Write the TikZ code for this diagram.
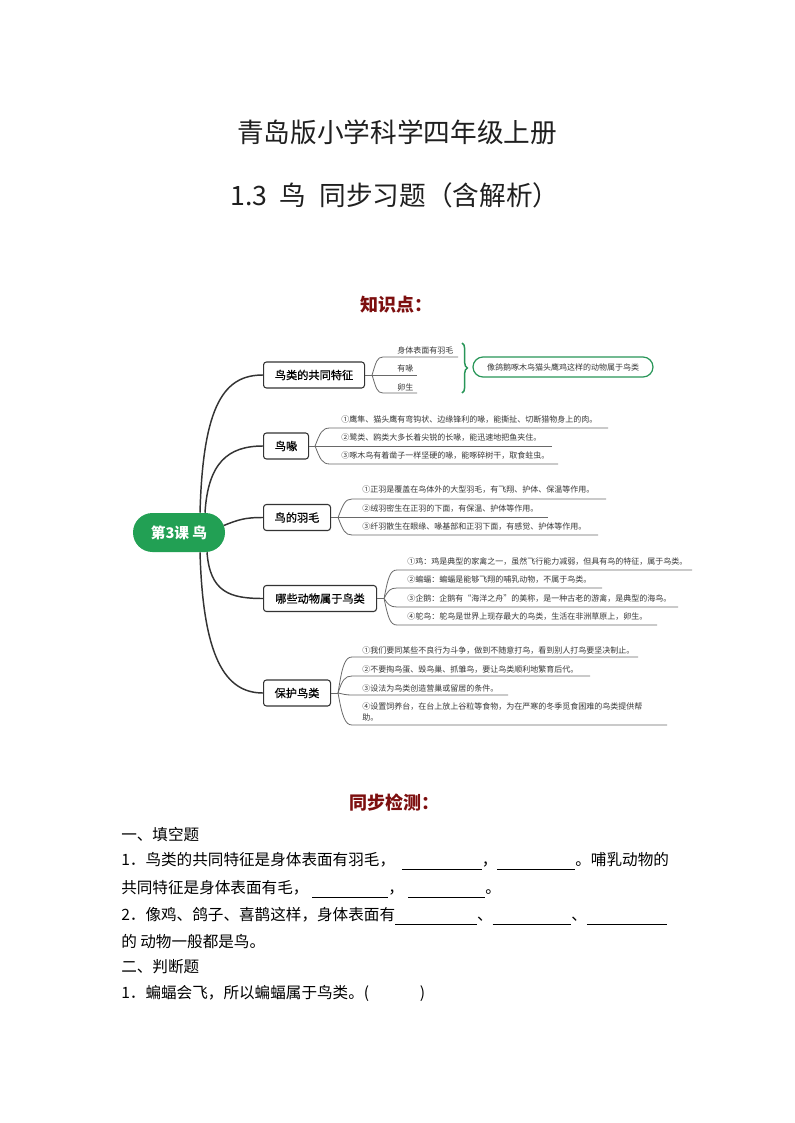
\documentclass[tikz,border=0pt]{standalone}
\usepackage{fontspec}
\setmainfont{Noto Sans CJK SC}
\newfontfamily\medfont[FakeBold=0.6]{Noto Sans CJK SC}
\usetikzlibrary{calc,decorations.pathreplacing}
\definecolor{mmgreen}{RGB}{34,160,84}
\definecolor{bracegreen}{RGB}{40,150,88}
\definecolor{darkred}{RGB}{125,15,15}
\definecolor{twiggray}{RGB}{105,105,105}
\definecolor{txtgray}{RGB}{55,55,55}
\newcommand\blankline[1]{\smash{\rule[-3pt]{#1}{0.5pt}}}
\begin{document}
\begin{tikzpicture}[x=0.75pt,y=-0.75pt,
  title/.style={font=\fontsize{20pt}{24pt}\selectfont, text=black!88, inner sep=0},
  heading/.style={font=\fontsize{13.5pt}{16pt}\selectfont\bfseries, text=darkred, inner sep=0},
  hub/.style={fill=mmgreen, rounded corners=14.6pt, minimum width=69pt, minimum height=29.25pt, text=white, font=\fontsize{11pt}{13pt}\selectfont\bfseries, inner sep=0},
  topic/.style={draw=black!80, line width=0.8pt, rounded corners=2.2pt, fill=white, minimum height=19.5pt, inner sep=0, font=\fontsize{8.4pt}{10pt}\selectfont\medfont, anchor=west},
  leaf/.style={font=\fontsize{6pt}{8.25pt}\selectfont, text=txtgray, inner sep=0, anchor=west},
  summary/.style={draw=bracegreen, line width=0.9pt, rounded corners=7.5pt, minimum width=135pt, minimum height=15pt, inner sep=0, font=\fontsize{6pt}{8pt}\selectfont, text=txtgray},
  limb/.style={draw=black!80, line width=1.1pt},
  twig/.style={draw=twiggray, line width=0.6pt},
  body/.style={font=\fontsize{11.7pt}{14pt}\selectfont, inner sep=0, anchor=west},
]
\fill[white] (0,0) rectangle (794,1123);
\useasboundingbox (0,0) rectangle (794,1123);

% titles
\node[title] (t1) at (397,132) {青岛版小学科学四年级上册};
\node[title] (t2) at (395,195) {1.3\hspace{0.45em}鸟\hspace{0.5em}同步习题（含解析）};
\node[heading] (h1) at (396,305) {知识点：};

% mind map
\node[hub] (hub) at (179,532.5) {第3课 鸟};
\node[topic, minimum width=75.75pt] (b1) at (263,375) {鸟类的共同特征};
\node[topic, minimum width=33.75pt] (b2) at (263,446) {鸟喙};
\node[topic, minimum width=50.25pt] (b3) at (263,517.5) {鸟的羽毛};
\node[topic, minimum width=84.75pt] (b4) at (263,598.5) {哪些动物属于鸟类};
\node[topic, minimum width=50.25pt] (b5) at (263,693) {保护鸟类};

\draw[limb] ($(hub.north)+(21,0)$) .. controls +(3,-110) and +(-38,0) .. (b1.west);
\draw[limb] ($(hub.north)+(26,0)$) .. controls +(3,-50) and +(-35,0) .. (b2.west);
\draw[limb] ($(hub.east)+(-1.5,-7)$) .. controls +(15,-6) and +(-18,0) .. (b3.west);
\draw[limb] ($(hub.south)+(28,0)$) .. controls +(3,40) and +(-33,0) .. (b4.west);
\draw[limb] ($(hub.south)+(21,0)$) .. controls +(3,105) and +(-38,0) .. (b5.west);

% branch 1
\coordinate (f1) at ($(b1.east)+(7,0)$);
\node[leaf] (l11) at (397,350) {身体表面有羽毛};
\node[leaf] (l12) at (397,368) {有喙};
\node[leaf] (l13) at (397,387) {卵生};
\coordinate (s11) at (383,357); \coordinate (e11) at (458,357);
\coordinate (e12) at (417,375);
\coordinate (s13) at (383,393); \coordinate (e13) at (417,393);
\draw[twig] (f1) .. controls +(4,-13) and +(-6,0) .. (s11) -- (e11);
\draw[twig] (b1.east) -- (e12);
\draw[twig] (f1) .. controls +(4,13) and +(-6,0) .. (s13) -- (e13);
\coordinate (brA) at (462,343); \coordinate (brB) at (462,393);
\draw[bracegreen, line width=1.1pt, decorate, decoration={brace, amplitude=4pt}] (brA) -- (brB);
\node[summary] (sum) at (563,367) {像鸽鹅啄木鸟猫头鹰鸡这样的动物属于鸟类};

% branch 2
\coordinate (f2) at ($(b2.east)+(6,0)$);
\node[leaf] (l21) at (341,420) {①鹰隼、猫头鹰有弯钩状、边缘锋利的喙，能撕扯、切断猎物身上的肉。};
\node[leaf] (l22) at (341,438) {②鹭类、鸥类大多长着尖锐的长喙，能迅速地把鱼夹住。};
\node[leaf] (l23) at (341,456) {③啄木鸟有着凿子一样坚硬的喙，能啄碎树干，取食蛀虫。};
\coordinate (s21) at (330,428); \coordinate (e21) at (608,428);
\coordinate (e22) at (552,446);
\coordinate (s23) at (330,464); \coordinate (e23) at (558,464);
\draw[twig] (f2) .. controls +(5,-13) and +(-8,0) .. (s21) -- (e21);
\draw[twig] (b2.east) -- (e22);
\draw[twig] (f2) .. controls +(5,13) and +(-8,0) .. (s23) -- (e23);

% branch 3
\coordinate (f3) at ($(b3.east)+(7,0)$);
\node[leaf] (l31) at (362,490) {①正羽是覆盖在鸟体外的大型羽毛，有飞翔、护体、保温等作用。};
\node[leaf] (l32) at (362,509) {②绒羽密生在正羽的下面，有保温、护体等作用。};
\node[leaf] (l33) at (362,527) {③纤羽散生在眼缘、喙基部和正羽下面，有感觉、护体等作用。};
\coordinate (s31) at (352,499); \coordinate (e31) at (606,499);
\coordinate (e32) at (548,517.5);
\coordinate (s33) at (352,535); \coordinate (e33) at (598,535);
\draw[twig] (f3) .. controls +(5,-13) and +(-7,0) .. (s31) -- (e31);
\draw[twig] (b3.east) -- (e32);
\draw[twig] (f3) .. controls +(5,13) and +(-7,0) .. (s33) -- (e33);

% branch 4
\coordinate (f4) at ($(b4.east)+(7,0)$);
\node[leaf] (l41) at (407,562) {①鸡：鸡是典型的家禽之一，虽然飞行能力减弱，但具有鸟的特征，属于鸟类。};
\node[leaf] (l42) at (407,580) {②蝙蝠：蝙蝠是能够飞翔的哺乳动物，不属于鸟类。};
\node[leaf] (l43) at (407,599) {③企鹅：企鹅有“海洋之舟”的美称，是一种古老的游禽，是典型的海鸟。};
\node[leaf] (l44) at (407,617) {④鸵鸟：鸵鸟是世界上现存最大的鸟类，生活在非洲草原上，卵生。};
\coordinate (s41) at (397,570); \coordinate (e41) at (692,570);
\coordinate (s42) at (397,588); \coordinate (e42) at (602,588);
\coordinate (s43) at (397,607); \coordinate (e43) at (678,607);
\coordinate (s44) at (397,625); \coordinate (e44) at (657,625);
\draw[twig] (b4.east) -- (f4);
\draw[twig] (f4) .. controls +(4,-21) and +(-7,0) .. (s41) -- (e41);
\draw[twig] (f4) .. controls +(4,-8) and +(-7,0) .. (s42) -- (e42);
\draw[twig] (f4) .. controls +(4,6) and +(-7,0) .. (s43) -- (e43);
\draw[twig] (f4) .. controls +(4,19) and +(-7,0) .. (s44) -- (e44);

% branch 5
\coordinate (f5) at ($(b5.east)+(7,0)$);
\node[leaf] (l51) at (362,651) {①我们要同某些不良行为斗争，做到不随意打鸟，看到别人打鸟要坚决制止。};
\node[leaf] (l52) at (362,670) {②不要掏鸟蛋、毁鸟巢、抓雏鸟，要让鸟类顺利地繁育后代。};
\node[leaf] (l53) at (362,688) {③设法为鸟类创造营巢或留居的条件。};
\node[leaf, anchor=north west, align=left] (l54) at (362,702) {④设置饲养台，在台上放上谷粒等食物，为在严寒的冬季觅食困难的鸟类提供帮\\助。};
\coordinate (s51) at (352,657); \coordinate (e51) at (638,657);
\coordinate (s52) at (352,676); \coordinate (e52) at (590,676);
\coordinate (s53) at (352,695); \coordinate (e53) at (508,695);
\coordinate (s54) at (352,725); \coordinate (e54) at (667,725);
\draw[twig] (b5.east) -- (f5);
\draw[twig] (f5) .. controls +(4,-27) and +(-7,0) .. (s51) -- (e51);
\draw[twig] (f5) .. controls +(4,-13) and +(-7,0) .. (s52) -- (e52);
\draw[twig] (f5) .. controls +(5,1) and +(-7,0) .. (s53) -- (e53);
\draw[twig] (f5) .. controls +(4,23) and +(-7,0) .. (s54) -- (e54);

% exercises
\node[heading] (h2) at (394,803) {同步检测：};
\node[body] (q0) at (121,835) {一、填空题};
\node[body] (q1) at (121,860) {1．鸟类的共同特征是身体表面有羽毛，\hspace{5pt}\blankline{60pt}，\blankline{58.5pt}。哺乳动物的};
\node[body] (q2) at (121,888) {共同特征是身体表面有毛，\hspace{3pt}\blankline{57pt}，\hspace{3pt}\blankline{58pt}。};
\node[body] (q3) at (121,915) {2．像鸡、鸽子、喜鹊这样，身体表面有\blankline{61.5pt}、\blankline{59pt}、\blankline{60pt}};
\node[body] (q4) at (121,942) {的 动物一般都是鸟。};
\node[body] (q5) at (121,967) {二、判断题};
\node[body] (q6) at (121,993) {1．蝙蝠会飞，所以蝙蝠属于鸟类。(\hspace{38pt})};
\end{tikzpicture}
\end{document}
